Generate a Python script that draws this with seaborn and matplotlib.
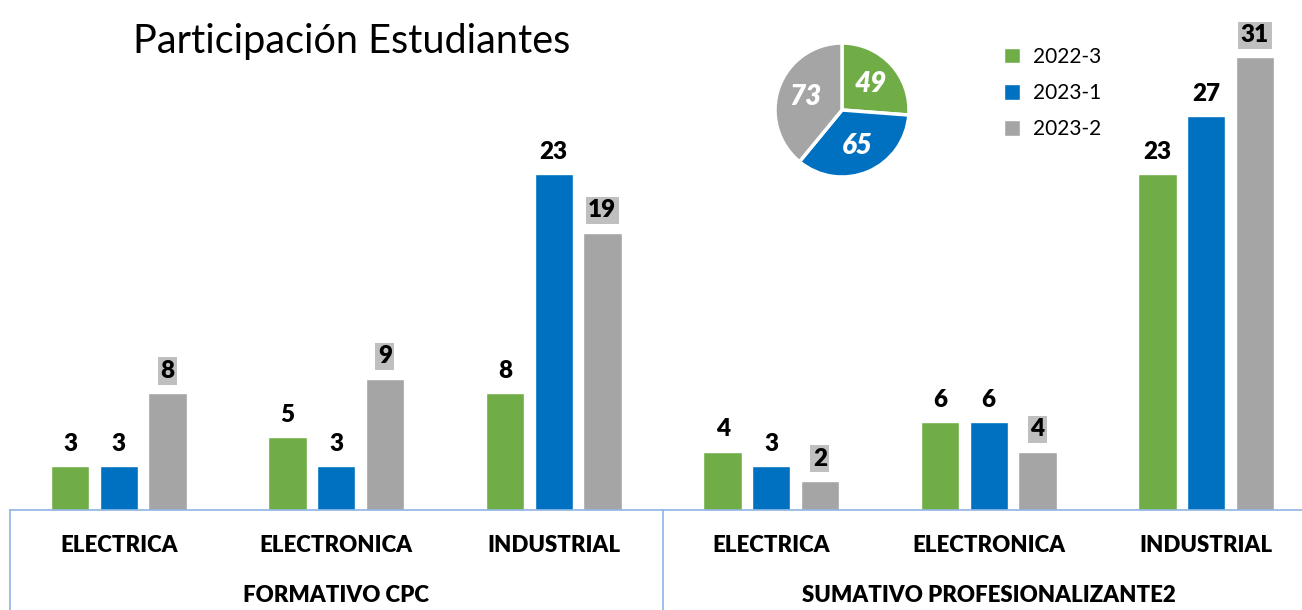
import numpy as np
import pandas as pd
import matplotlib.pyplot as plt
import seaborn as sns

# Datos
grupos = ["FORMATIVO CPC", "SUMATIVO PROFESIONALIZANTE2"]
programas = ["ELECTRICA", "ELECTRONICA", "INDUSTRIAL"]
periodos = ["2022-3", "2023-1", "2023-2"]
colores = ["#70AD47", "#0070C0", "#A5A5A5"]

p2022_3 = [3, 5, 8, 4, 6, 23]
p2023_1 = [3, 3, 23, 3, 6, 27]
p2023_2 = [8, 9, 19, 2, 4, 31]

cats = [g + "|" + p for g in grupos for p in programas]
df = pd.DataFrame({
    "cat": cats * 3,
    "periodo": [periodos[0]] * 6 + [periodos[1]] * 6 + [periodos[2]] * 6,
    "valor": p2022_3 + p2023_1 + p2023_2,
})
totales = [sum(p2022_3), sum(p2023_1), sum(p2023_2)]

sns.set_style("white")
plt.rcParams["font.family"] = ["Lato", "DejaVu Sans"]
plt.rcParams["text.color"] = "black"
plt.rcParams["xtick.color"] = "black"
negrita = "heavy"

fig = plt.figure(figsize=(13.02, 6.10), dpi=100)
W, H = 1302, 610
ax = fig.add_axes([10 / W, 100 / H, 1292 / W, 510 / H])

sns.barplot(data=df, x="cat", y="valor", hue="periodo", order=cats,
            hue_order=periodos, palette=colores, width=0.67, gap=0.21,
            saturation=1, ax=ax)

ax.set_ylim(0, 510 / 14.6)
ax.set_xlim(-0.5, -0.5 + 1292 / 217.5)

# etiquetas de valor
for i, cont in enumerate(ax.containers):
    txts = ax.bar_label(cont, padding=8, fontsize=17.5, fontweight=negrita,
                        color="black")
    if i == 2:
        for t in txts:
            t.set_bbox(dict(facecolor="#BFBFBF", edgecolor="none", pad=2))

# ejes
for s in ["top", "right", "left"]:
    ax.spines[s].set_visible(False)
ax.spines["bottom"].set_color("#8EB4E3")
ax.spines["bottom"].set_linewidth(1.2)
ax.set_yticks([])
ax.set_xlabel("")
ax.set_ylabel("")
ax.set_xticks(range(6))
ax.set_xticklabels(programas * 2, fontsize=16, fontweight=negrita, color="black")
ax.tick_params(axis="x", length=0, pad=18)

for x in [-0.5, 2.5, 5.5]:
    ax.plot([x, x], [0, -100 / 510], transform=ax.get_xaxis_transform(),
            color="#8EB4E3", lw=1.2, clip_on=False)
for i, g in enumerate(grupos):
    ax.text(1 + 3 * i, -85 / 510, g, transform=ax.get_xaxis_transform(),
            ha="center", va="center", fontsize=16, fontweight=negrita,
            color="black")

# leyenda
leg = ax.legend(loc="upper left", bbox_to_anchor=((985 - 10) / 1292, 1 - 28 / 510),
                frameon=False, fontsize=15, handlelength=0.8, handleheight=0.8,
                handletextpad=0.6, labelspacing=0.78)
for t in leg.get_texts():
    t.set_color("black")

fig.text(133 / W, 1 - 42 / H, "Participación Estudiantes", fontsize=28.5,
         va="center", ha="left", color="black")

# pastel
r = 69
pax = fig.add_axes([(842 - r) / W, (610 - 110 - r) / H, 2 * r / W, 2 * r / H])
pax.pie(totales, colors=colores, startangle=90, counterclock=False,
        wedgeprops=dict(edgecolor="white", linewidth=2.5),
        autopct=lambda p: "%d" % round(p * sum(totales) / 100),
        pctdistance=0.58,
        textprops=dict(color="white", fontsize=20, fontweight=negrita,
                       fontstyle="italic"))
pax.set_xlim(-1.03, 1.03)
pax.set_ylim(-1.03, 1.03)

fig.savefig("out.png", dpi=100)
